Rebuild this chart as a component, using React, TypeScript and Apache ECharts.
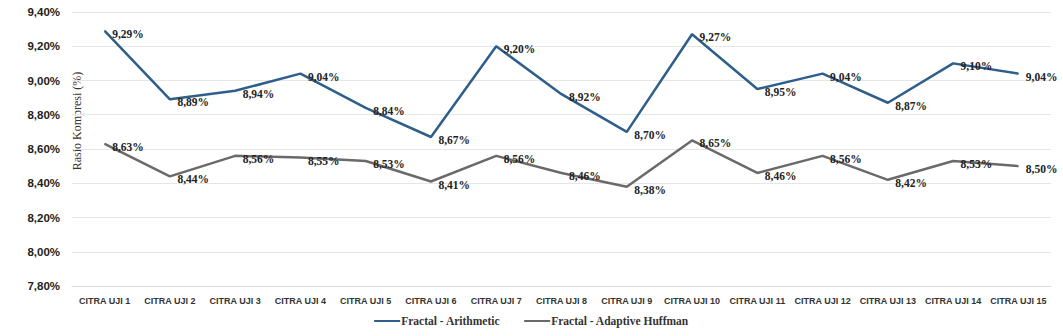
import React, { useEffect, useRef } from "react";
import * as echarts from "echarts";

const categories = [
  "CITRA UJI 1", "CITRA UJI 2", "CITRA UJI 3", "CITRA UJI 4", "CITRA UJI 5",
  "CITRA UJI 6", "CITRA UJI 7", "CITRA UJI 8", "CITRA UJI 9", "CITRA UJI 10",
  "CITRA UJI 11", "CITRA UJI 12", "CITRA UJI 13", "CITRA UJI 14", "CITRA UJI 15",
];
const arithmetic = [9.29, 8.89, 8.94, 9.04, 8.84, 8.67, 9.2, 8.92, 8.7, 9.27, 8.95, 9.04, 8.87, 9.1, 9.04];
const huffman = [8.63, 8.44, 8.56, 8.55, 8.53, 8.41, 8.56, 8.46, 8.38, 8.65, 8.46, 8.56, 8.42, 8.53, 8.5];
const seriesNames = ["Fractal - Arithmetic", "Fractal - Adaptive Huffman"];
const yTitle = "Rasio Kompresi (%)";

const fmt = (v: number) => v.toFixed(2).replace(".", ",") + "%";

export default function App() {
  const ref = useRef<HTMLDivElement>(null);
  useEffect(() => {
    document.body.style.margin = "0";
    const chart = echarts.init(ref.current!, undefined, { renderer: "svg" });
    const labelStyle = {
      show: true,
      position: "right" as const,
      distance: 7,
      offset: [0, 3],
      fontFamily: "Liberation Serif",
      fontWeight: "bold" as const,
      fontSize: 11.5,
      color: "#222",
      formatter: (p: any) => fmt(p.value),
    };
    chart.setOption({
      animation: false,
      grid: { left: 72, right: 12, top: 12, bottom: 50 },
      legend: {
        bottom: 4,
        left: "center",
        itemWidth: 26,
        itemHeight: 2,
        itemGap: 24,
        icon: "rect",
        textStyle: { fontFamily: "Liberation Serif", fontWeight: "bold", fontSize: 11.5, color: "#333", padding: [0, 0, 0, -4] },
        data: seriesNames,
      },
      xAxis: {
        type: "category",
        data: categories,
        boundaryGap: true,
        axisLine: { lineStyle: { color: "#d9d9d9" } },
        axisTick: { show: false },
        axisLabel: { interval: 0, fontFamily: "Liberation Sans", fontWeight: "bold", fontSize: 9, color: "#333", margin: 10 },
      },
      yAxis: {
        type: "value",
        min: 7.8,
        max: 9.4,
        interval: 0.2,
        axisLine: { show: false },
        axisTick: { show: false },
        splitLine: { lineStyle: { color: "#e6e6e6", width: 1 } },
        axisLabel: {
          fontFamily: "Liberation Sans",
          fontWeight: "bold",
          fontSize: 11.5,
          color: "#222",
          margin: 12,
          formatter: (v: number) => fmt(v),
        },
      },
      graphic: [
        {
          type: "text",
          x: 77,
          y: 121,
          rotation: Math.PI / 2,
          style: {
            text: yTitle,
            fontFamily: "Liberation Serif",
            fontSize: 12,
            fill: "#333",
            textAlign: "center",
            textVerticalAlign: "middle",
          },
        },
      ],
      series: [
        {
          name: seriesNames[0],
          type: "line",
          data: arithmetic,
          symbol: "circle",
          symbolSize: 1,
          showSymbol: true,
          lineStyle: { color: "#2E5E8B", width: 2.5 },
          itemStyle: { color: "#2E5E8B" },
          label: labelStyle,
        },
        {
          name: seriesNames[1],
          type: "line",
          data: huffman,
          symbol: "circle",
          symbolSize: 1,
          showSymbol: true,
          lineStyle: { color: "#6A6A6A", width: 2.5 },
          itemStyle: { color: "#6A6A6A" },
          label: labelStyle,
        },
      ],
    });
    return () => chart.dispose();
  }, []);
  return <div ref={ref} style={{ width: 1063, height: 336 }} />;
}
